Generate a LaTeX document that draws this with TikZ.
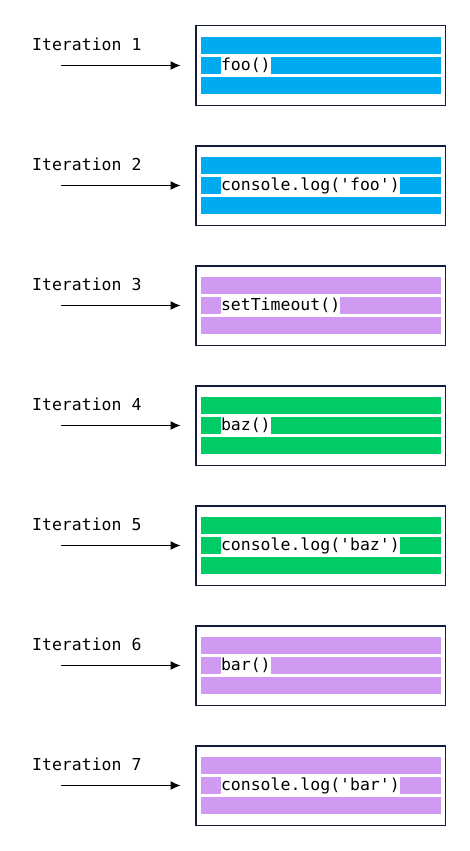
\documentclass[tikz,border=0pt]{standalone}
\usepackage{fontspec}
\setmonofont{DejaVu Sans Mono}
\usetikzlibrary{arrows.meta,positioning}
\definecolor{callblue}{RGB}{0,170,238}
\definecolor{callgreen}{RGB}{0,204,102}
\definecolor{callpurple}{RGB}{209,154,242}
\definecolor{framenavy}{RGB}{20,28,58}

\tikzset{
  framebox/.style={draw=framenavy, line width=1.5pt, minimum width=249.5pt, minimum height=79.5pt, inner sep=0pt},
  stackbar/.style={minimum width=240pt, minimum height=17pt, inner sep=0pt},
  codetext/.style={fill=white, inner xsep=0pt, inner ysep=0pt, minimum height=17pt, font=\ttfamily\fontsize{16.5}{20}\selectfont},
  iterlabel/.style={anchor=base west, inner sep=0pt, font=\ttfamily\fontsize{16.5}{20}\selectfont},
  pushar/.style={-{Latex[length=10pt,width=9pt]}, line width=1pt, shorten >=14.5pt}
}

\begin{document}
\begin{tikzpicture}[x=1pt, y=1pt]
  \useasboundingbox (0,0) rectangle (470,-851);

  \foreach \i/\code/\col in {1/foo()/callblue, 2/console.log('foo')/callblue, 3/setTimeout()/callpurple,
      4/baz()/callgreen, 5/console.log('baz')/callgreen, 6/bar()/callpurple, 7/console.log('bar')/callpurple} {
    \pgfmathsetmacro\y{-65.5-120*(\i-1)}
    \node[iterlabel] (label\i) at (32,\y+14.8) {Iteration \i};
    \node[framebox] (box\i) at (320.5,\y) {};
    \node[stackbar, fill=\col] (mid\i) at (321,\y) {};
    \node[stackbar, fill=\col, above=3pt of mid\i] (top\i) {};
    \node[stackbar, fill=\col, below=3pt of mid\i] (bot\i) {};
    \node[codetext, right=20pt of mid\i.west] (code\i) {\code};
    \coordinate (start\i) at (61,\y);
    \draw[pushar] (start\i) -- (box\i.west);
  }
\end{tikzpicture}
\end{document}
